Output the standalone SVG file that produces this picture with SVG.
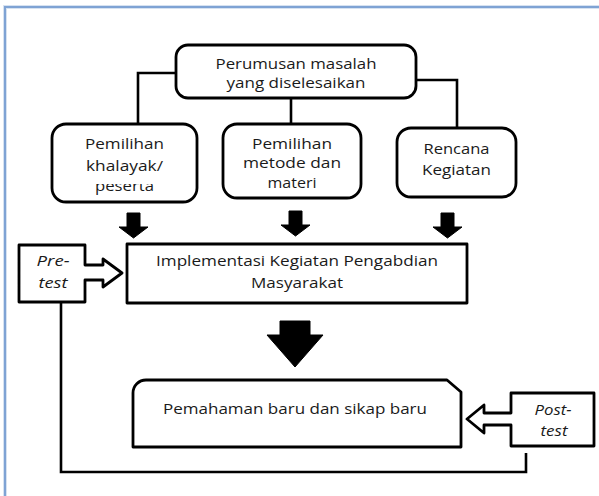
<svg xmlns="http://www.w3.org/2000/svg" width="599" height="496" viewBox="0 0 599 496">
<style>
.box{fill:#fff;stroke:#000;stroke-width:2.8;stroke-linejoin:round}
.con{fill:none;stroke:#000;stroke-width:2.6;stroke-linejoin:miter}
.blk{fill:#000;stroke:#000;stroke-width:1}
.t{font-family:"Open Sans","Noto Sans","DejaVu Sans",sans-serif;font-size:14.5px;fill:#1a1a1a;text-anchor:middle}
.i{font-style:italic}
</style>
<defs>
<clipPath id="clipTop"><rect x="170" y="77.5" width="260" height="30"/></clipPath>
<clipPath id="clipB1"><rect x="50" y="184" width="150" height="20"/></clipPath>
</defs>
<rect x="5" y="7" width="620" height="520" fill="#fff" stroke="#d6e2f1" stroke-width="4"/>
<rect x="5" y="7" width="620" height="520" fill="none" stroke="#7fa3d4" stroke-width="2"/>

<g id="connectors">
<path class="con" d="M176,73 H138 V124"/>
<path class="con" d="M291,98 V124"/>
<path class="con" d="M416,80 H457 V128"/>
<path class="con" d="M61,302 V472 H526 V453"/>
<path class="blk" d="M127,213 H140 V227 H148 L133.5,238 L119,227 H127 Z"/>
<path class="blk" d="M289,211 H302 V225 H310 L295.5,236 L281,225 H289 Z"/>
<path class="blk" d="M441,213 H454 V227 H462 L447.5,238 L433,227 H441 Z"/>
<path class="blk" d="M280,321 H310 V335 H323 L295,367 L267,335 H280 Z"/>
</g>

<g id="n-perumusan">
<rect class="box" x="176" y="45" width="240" height="53" rx="12"/>
<text class="t" x="296" y="69" textLength="161" lengthAdjust="spacingAndGlyphs">Perumusan masalah</text>
<text class="t" x="296" y="88" textLength="139" lengthAdjust="spacingAndGlyphs" clip-path="url(#clipTop)">yang diselesaikan</text>
</g>

<g id="n-khalayak">
<rect class="box" x="52" y="124" width="145" height="78" rx="14"/>
<text class="t" x="124.5" y="149" textLength="79" lengthAdjust="spacingAndGlyphs">Pemilihan</text>
<text class="t" x="124.5" y="171" textLength="77" lengthAdjust="spacingAndGlyphs">khalayak/</text>
<text class="t" x="124.5" y="191" textLength="59" lengthAdjust="spacingAndGlyphs" clip-path="url(#clipB1)">peserta</text>
</g>

<g id="n-metode">
<rect class="box" x="223" y="124" width="138" height="74" rx="14"/>
<text class="t" x="292" y="149" textLength="80" lengthAdjust="spacingAndGlyphs">Pemilihan</text>
<text class="t" x="292" y="168" textLength="98" lengthAdjust="spacingAndGlyphs">metode dan</text>
<text class="t" x="292" y="188" textLength="49" lengthAdjust="spacingAndGlyphs">materi</text>
</g>

<g id="n-rencana">
<rect class="box" x="397" y="128" width="119" height="69" rx="14"/>
<text class="t" x="456.5" y="154" textLength="66" lengthAdjust="spacingAndGlyphs">Rencana</text>
<text class="t" x="456.5" y="175" textLength="69" lengthAdjust="spacingAndGlyphs">Kegiatan</text>
</g>

<g id="n-implementasi">
<rect class="box" x="127" y="244" width="340" height="59"/>
<text class="t" x="297" y="266" textLength="282" lengthAdjust="spacingAndGlyphs">Implementasi Kegiatan Pengabdian</text>
<text class="t" x="297" y="288" textLength="92" lengthAdjust="spacingAndGlyphs">Masyarakat</text>
</g>

<g id="n-pretest">
<path class="box" d="M19,245 H85 V265 H103 V259 L122,273 L103,287 V280 H85 V302 H19 Z"/>
<text class="t i" x="53" y="266" textLength="33" lengthAdjust="spacingAndGlyphs">Pre-</text>
<text class="t i" x="53" y="288" textLength="29" lengthAdjust="spacingAndGlyphs">test</text>
</g>

<g id="n-pemahaman">
<path class="box" d="M133,447 V393 A13,13 0 0 1 146,380 H447 L461,392 V447 Z"/>
<text class="t" x="295" y="414" textLength="264" lengthAdjust="spacingAndGlyphs">Pemahaman baru dan sikap baru</text>
</g>

<g id="n-posttest">
<path class="box" d="M594,393 H511 V413 H484 V405 L467,419 L484,433 V425 H511 V446 H594 Z"/>
<text class="t i" x="553" y="415" textLength="37" lengthAdjust="spacingAndGlyphs">Post-</text>
<text class="t i" x="554" y="436" textLength="27" lengthAdjust="spacingAndGlyphs">test</text>
</g>
</svg>
